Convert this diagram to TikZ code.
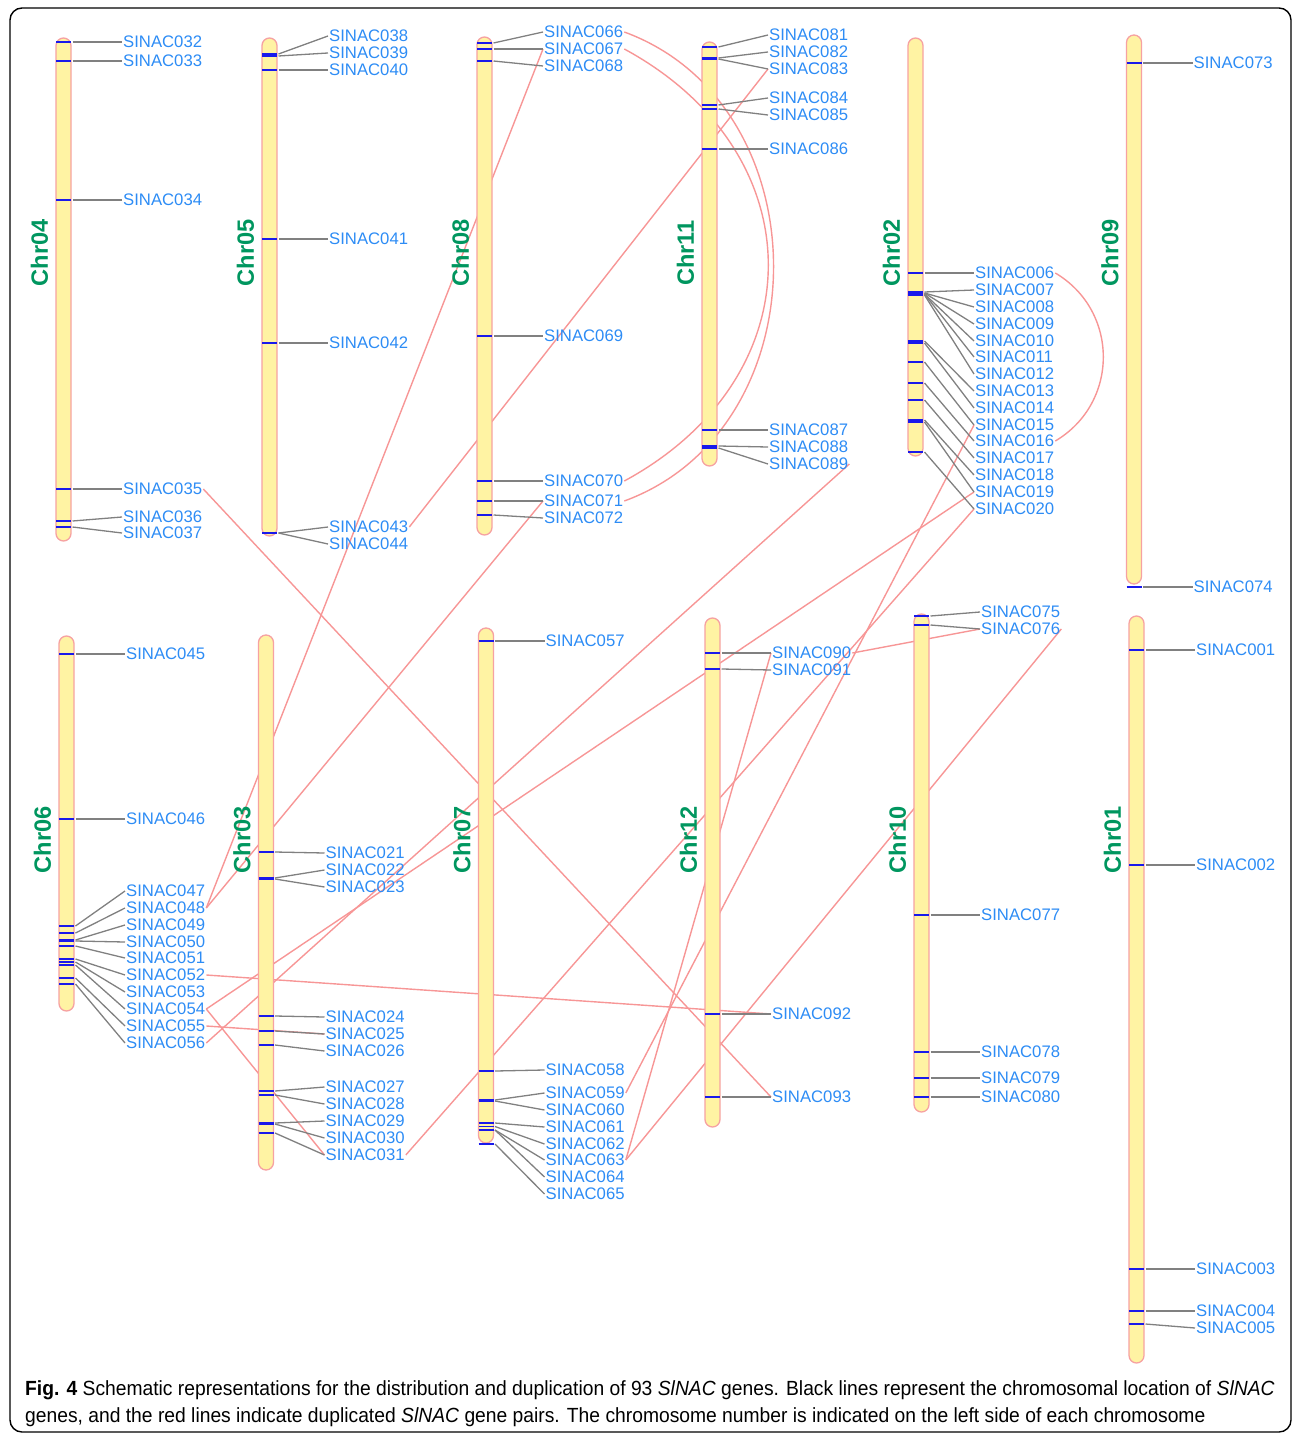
\documentclass[tikz,border=0pt]{standalone}
\usepackage{fontspec}
\setmainfont{Liberation Sans}
\newfontfamily\figcapfont[FakeStretch=0.94]{Liberation Sans}
\usetikzlibrary{backgrounds}

\definecolor{chrfill}{RGB}{255,243,163}
\definecolor{chredge}{RGB}{246,162,162}
\definecolor{locus}{RGB}{25,25,235}
\definecolor{leadgray}{RGB}{128,128,128}
\definecolor{genetext}{RGB}{45,140,245}
\definecolor{chrgreen}{RGB}{0,150,95}
\definecolor{duppink}{RGB}{247,150,150}

\begin{document}
\begin{tikzpicture}[x=1pt, y=-1pt,
    chrbar/.style={draw=chredge, fill=chrfill, line width=1.3pt, rounded corners=7.5pt},
    locustick/.style={draw=locus, line width=1.9pt},
    leader/.style={draw=leadgray, line width=1.3pt},
    gene/.style={anchor=west, inner sep=1pt, text=genetext, font=\fontsize{16.7}{16.7}\selectfont},
    chrname/.style={rotate=90, inner sep=0pt, text=chrgreen, font=\bfseries\fontsize{23.6}{23.6}\selectfont},
    duplink/.style={draw=duppink, line width=1.4pt},
    caption/.style={anchor=base west, inner sep=0pt, font=\figcapfont\fontsize{20.5}{20.5}\selectfont}]
    \useasboundingbox (0,0) rectangle (1292,1434);

    % Rahmen
    \draw[line width=1.4pt, rounded corners=12pt] (10,8) rectangle (1291,1432);

    % Chr04
    \begin{scope}[shift={(63.5,0)}]
        \draw[chrbar] (-7.5,38) rectangle (7.5,541);
        \node[chrname] (chr04) at (-24,253) {Chr04};
        \foreach \gid/\my/\ly in {032/42/42, 033/61/61, 034/200/200, 035/489/489, 036/521/517, 037/527/533}{
            \draw[locustick] (-7.5,\my) -- (7.5,\my);
            \coordinate (p\gid) at (9,\my);
            \node[gene] (g\gid) at (58.5,\ly) {SINAC\gid};
            \draw[leader] (p\gid) -- (g\gid.west);
        }
    \end{scope}

    % Chr05
    \begin{scope}[shift={(269.5,0)}]
        \draw[chrbar] (-7.5,38) rectangle (7.5,536);
        \node[chrname] (chr05) at (-24,253) {Chr05};
        \foreach \gid/\my/\ly in {038/54/36, 039/56/53, 040/70/70, 041/239/239, 042/343/343, 043/533/527, 044/533/544}{
            \draw[locustick] (-7.5,\my) -- (7.5,\my);
            \coordinate (p\gid) at (9,\my);
            \node[gene] (g\gid) at (58.5,\ly) {SINAC\gid};
            \draw[leader] (p\gid) -- (g\gid.west);
        }
    \end{scope}

    % Chr08
    \begin{scope}[shift={(484.5,0)}]
        \draw[chrbar] (-7.5,37) rectangle (7.5,535);
        \node[chrname] (chr08) at (-24,253) {Chr08};
        \foreach \gid/\my/\ly in {066/43/32, 067/49/49, 068/61/66, 069/336/336, 070/481/481, 071/501/501, 072/515/518}{
            \draw[locustick] (-7.5,\my) -- (7.5,\my);
            \coordinate (p\gid) at (9,\my);
            \node[gene] (g\gid) at (58.5,\ly) {SINAC\gid};
            \draw[leader] (p\gid) -- (g\gid.west);
        }
    \end{scope}

    % Chr11
    \begin{scope}[shift={(709.5,0)}]
        \draw[chrbar] (-7.5,42) rectangle (7.5,466);
        \node[chrname] (chr11) at (-24,253) {Chr11};
        \foreach \gid/\my/\ly in {081/47/35, 082/58/52, 083/59/69, 084/105/98, 085/109/115, 086/149/149, 087/430/430, 088/446/447, 089/448/464}{
            \draw[locustick] (-7.5,\my) -- (7.5,\my);
            \coordinate (p\gid) at (9,\my);
            \node[gene] (g\gid) at (58.5,\ly) {SINAC\gid};
            \draw[leader] (p\gid) -- (g\gid.west);
        }
    \end{scope}

    % Chr02
    \begin{scope}[shift={(915.5,0)}]
        \draw[chrbar] (-7.5,38) rectangle (7.5,456);
        \node[chrname] (chr02) at (-24,253) {Chr02};
        \foreach \gid/\my/\ly in {006/273/273, 007/292/290, 008/293/307, 009/293/324, 010/294/341, 011/294/357, 012/295/374, 013/341/391, 014/343/408, 015/362/425, 016/383/441, 017/400/458, 018/420/475, 019/422/492, 020/452/509}{
            \draw[locustick] (-7.5,\my) -- (7.5,\my);
            \coordinate (p\gid) at (9,\my);
            \node[gene] (g\gid) at (58.5,\ly) {SINAC\gid};
            \draw[leader] (p\gid) -- (g\gid.west);
        }
    \end{scope}

    % Chr09
    \begin{scope}[shift={(1134,0)}]
        \draw[chrbar] (-7.5,35) rectangle (7.5,584);
        \node[chrname] (chr09) at (-24,253) {Chr09};
        \foreach \gid/\my/\ly in {073/63/63, 074/587/587}{
            \draw[locustick] (-7.5,\my) -- (7.5,\my);
            \coordinate (p\gid) at (9,\my);
            \node[gene] (g\gid) at (58.5,\ly) {SINAC\gid};
            \draw[leader] (p\gid) -- (g\gid.west);
        }
    \end{scope}

    % Chr06
    \begin{scope}[shift={(66.5,0)}]
        \draw[chrbar] (-7.5,636) rectangle (7.5,1011);
        \node[chrname] (chr06) at (-24,840) {Chr06};
        \foreach \gid/\my/\ly in {045/654/654, 046/819/819, 047/926/891, 048/933/908, 049/940/925, 050/941/942, 051/946/958, 052/959/975, 053/962/992, 054/965/1009, 055/978/1026, 056/984/1043}{
            \draw[locustick] (-7.5,\my) -- (7.5,\my);
            \coordinate (p\gid) at (9,\my);
            \node[gene] (g\gid) at (58.5,\ly) {SINAC\gid};
            \draw[leader] (p\gid) -- (g\gid.west);
        }
    \end{scope}

    % Chr03
    \begin{scope}[shift={(266,0)}]
        \draw[chrbar] (-7.5,635) rectangle (7.5,1170);
        \node[chrname] (chr03) at (-24,840) {Chr03};
        \foreach \gid/\my/\ly in {021/852/853, 022/878/870, 023/879/887, 024/1016/1017, 025/1031/1034, 026/1045/1051, 027/1091/1087, 028/1095/1104, 029/1123/1121, 030/1124/1138, 031/1133/1155}{
            \draw[locustick] (-7.5,\my) -- (7.5,\my);
            \coordinate (p\gid) at (9,\my);
            \node[gene] (g\gid) at (58.5,\ly) {SINAC\gid};
            \draw[leader] (p\gid) -- (g\gid.west);
        }
    \end{scope}

    % Chr07
    \begin{scope}[shift={(486,0)}]
        \draw[chrbar] (-7.5,628) rectangle (7.5,1143);
        \node[chrname] (chr07) at (-24,840) {Chr07};
        \foreach \gid/\my/\ly in {057/641/641, 058/1071/1070, 059/1100/1093, 060/1101/1110, 061/1123/1127, 062/1126.5/1144, 063/1130/1160, 064/1130/1177, 065/1144/1194}{
            \draw[locustick] (-7.5,\my) -- (7.5,\my);
            \coordinate (p\gid) at (9,\my);
            \node[gene] (g\gid) at (58.5,\ly) {SINAC\gid};
            \draw[leader] (p\gid) -- (g\gid.west);
        }
    \end{scope}

    % Chr12
    \begin{scope}[shift={(712.5,0)}]
        \draw[chrbar] (-7.5,618) rectangle (7.5,1127);
        \node[chrname] (chr12) at (-24,840) {Chr12};
        \foreach \gid/\my/\ly in {090/653/653, 091/669/670, 092/1014/1014, 093/1097/1097}{
            \draw[locustick] (-7.5,\my) -- (7.5,\my);
            \coordinate (p\gid) at (9,\my);
            \node[gene] (g\gid) at (58.5,\ly) {SINAC\gid};
            \draw[leader] (p\gid) -- (g\gid.west);
        }
    \end{scope}

    % Chr10
    \begin{scope}[shift={(921.5,0)}]
        \draw[chrbar] (-7.5,614) rectangle (7.5,1112);
        \node[chrname] (chr10) at (-24,840) {Chr10};
        \foreach \gid/\my/\ly in {075/616/612, 076/625/629, 077/915/915, 078/1052/1052, 079/1078/1078, 080/1097/1097}{
            \draw[locustick] (-7.5,\my) -- (7.5,\my);
            \coordinate (p\gid) at (9,\my);
            \node[gene] (g\gid) at (58.5,\ly) {SINAC\gid};
            \draw[leader] (p\gid) -- (g\gid.west);
        }
    \end{scope}

    % Chr01
    \begin{scope}[shift={(1136.5,0)}]
        \draw[chrbar] (-7.5,616) rectangle (7.5,1363);
        \node[chrname] (chr01) at (-24,840) {Chr01};
        \foreach \gid/\my/\ly in {001/650/650, 002/865/865, 003/1269/1269, 004/1311/1311, 005/1324/1328}{
            \draw[locustick] (-7.5,\my) -- (7.5,\my);
            \coordinate (p\gid) at (9,\my);
            \node[gene] (g\gid) at (58.5,\ly) {SINAC\gid};
            \draw[leader] (p\gid) -- (g\gid.west);
        }
    \end{scope}

    % Duplikationen (hinter den Chromosomen)
    \begin{scope}[on background layer]
        \draw[duplink] (g066.east) .. controls +(199,73) and +(199,-73) .. (g071.east);
        \draw[duplink] (g067.east) .. controls +(192,104) and +(192,-104) .. (g070.east);
        \draw[duplink] (g006.east) .. controls +(64,38) and +(64,-38) .. (g016.east);
        \draw[duplink] (g048.east) -- (g067.west);
        \draw[duplink] (g048.east) -- (g071.west);
        \draw[duplink] (g043.east) -- (g083.west);
        \draw[duplink] (g035.east) -- (g093.west);
        \draw[duplink] (g056.east) -- (g089.east);
        \draw[duplink] (g054.east) -- (g019.west);
        \draw[duplink] (g054.east) -- (g031.west);
        \draw[duplink] (g031.east) -- (g020.west);
        \draw[duplink] (g059.east) -- (g015.west);
        \draw[duplink] (g063.east) -- (g090.west);
        \draw[duplink] (g063.east) -- (g076.east);
        \draw[duplink] (g090.east) -- (g076.west);
        \draw[duplink] (g052.east) -- (g092.west);
        \draw[duplink] (g055.east) -- (g025.west);
    \end{scope}

    % Bildunterschrift
    \node[caption] (cap1) at (25,1395) {{\bfseries Fig. 4} Schematic representations for the distribution and duplication of 93 \textit{SlNAC} genes. Black lines represent the chromosomal location of \textit{SlNAC}};
    \node[caption] (cap2) at (25,1422) {genes, and the red lines indicate duplicated \textit{SlNAC} gene pairs. The chromosome number is indicated on the left side of each chromosome};
\end{tikzpicture}
\end{document}
